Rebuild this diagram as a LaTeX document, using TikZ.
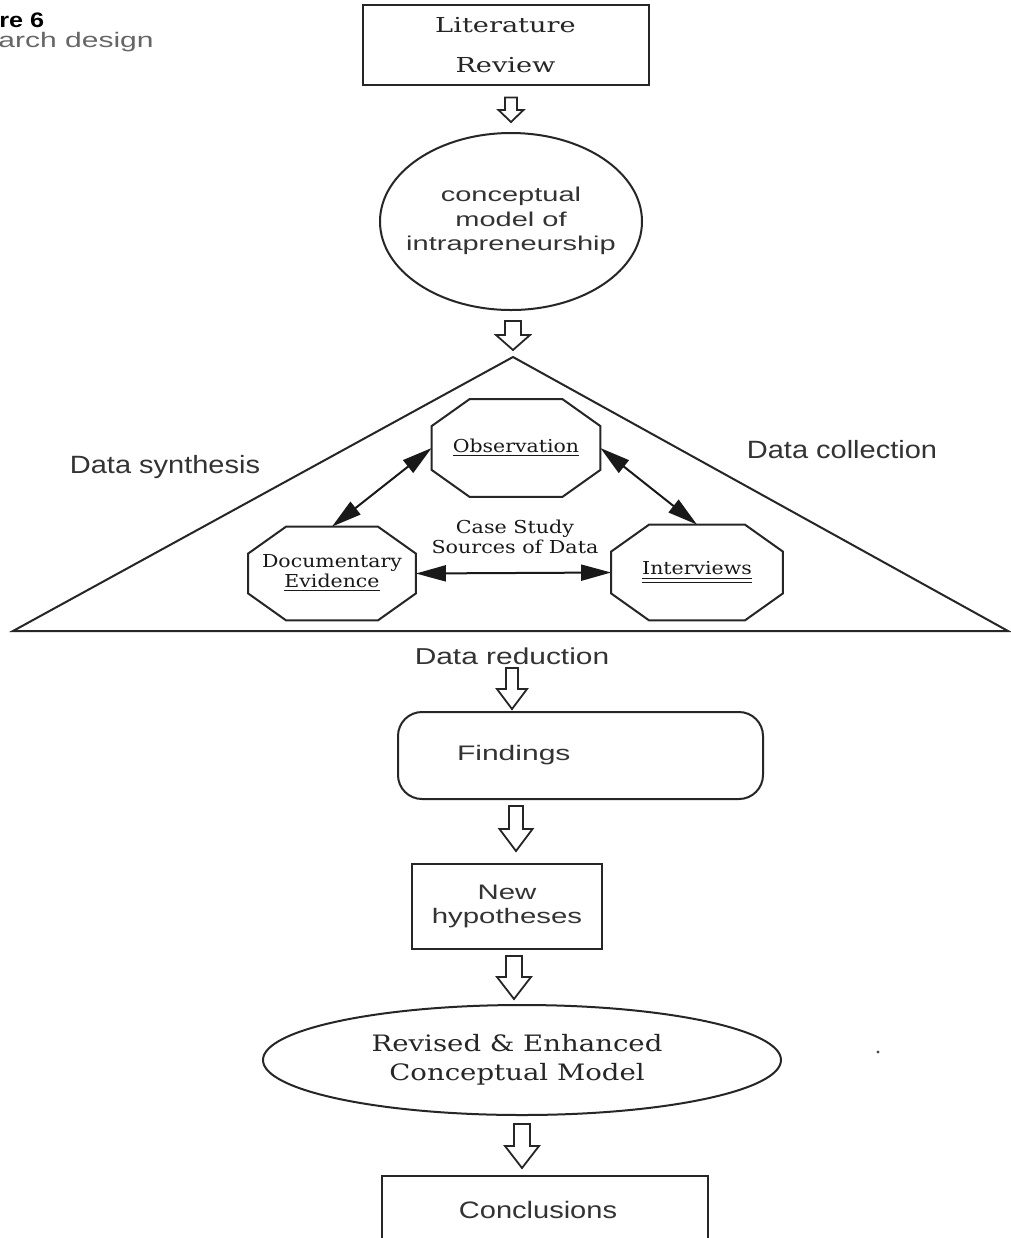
\documentclass[tikz,border=0pt]{standalone}
\usepackage{fontspec}
\usepackage{graphicx}
\setmainfont{DejaVu Serif}
\newfontfamily\sansf{Liberation Sans}
\newfontfamily\seriff{DejaVu Serif}
\usetikzlibrary{calc,shapes.geometric,arrows.meta}
\newcommand\hsx[2]{\scalebox{#1}[1]{#2}}
\tikzset{
  ln/.style={draw=black!85, line width=1pt},
  boxst/.style={ln, rectangle, inner sep=0pt},
  ellst/.style={ln, ellipse, inner sep=0pt},
  octst/.style={rectangle, inner sep=0pt, text=black!90},
  harrow/.style={draw=black!85, line width=0.9pt, fill=white, line join=miter},
  dbl/.style={{Triangle[length=15pt,width=8pt]}-{Triangle[length=15pt,width=8pt]}, draw=black!90, line width=1pt},
  sanslab/.style={text=black!80, inner sep=0pt},
}
\newcommand\octshape[1]{%
  \draw[ln, line join=miter] ([xshift=19pt]#1.north west) -- ([xshift=-19pt]#1.north east)
    -- ([yshift=-13.5pt]#1.north east) -- ([yshift=13.5pt]#1.south east)
    -- ([xshift=-19pt]#1.south east) -- ([xshift=19pt]#1.south west)
    -- ([yshift=13.5pt]#1.south west) -- ([yshift=-13.5pt]#1.north west) -- cycle;}
\newcommand\hollowarrow[5]{%
  \draw[harrow] let \p1=(#1), \p2=(#2) in
    (\x2-#3,\y1) -- (\x2+#3,\y1) -- (\x2+#3,\y2+#5) -- (\x2+#4,\y2+#5)
    -- (\x2,\y2) -- (\x2-#4,\y2+#5) -- (\x2-#3,\y2+#5) -- cycle;}
\begin{document}
\begin{tikzpicture}[x=0.5pt, y=-0.5pt]
\useasboundingbox (0,0) rectangle (1011,1238);
\clip (0,0) rectangle (1011,1238);
\fill[white] (0,0) rectangle (1011,1238);

% title (cropped in the original)
\node[anchor=base west, inner sep=0pt, font=\sansf\bfseries\fontsize{10.5}{12}\selectfont] (fig) at (-1,27) {\hsx{1.2}{re 6}};
\node[anchor=base west, inner sep=0pt, text=black!60, font=\sansf\fontsize{10.5}{12}\selectfont] (sub) at (-2,47) {\hsx{1.43}{arch design}};

% literature review
\node[boxst, minimum width=143pt, minimum height=37.5pt, text=black!85,
      font=\seriff\fontsize{10.3}{20}\selectfont] (lit) at (505.5,44.5)
  {\hsx{1.32}{\begin{tabular}{@{}c@{}}Literature\\Review\end{tabular}}};

% conceptual model
\node[ellst, minimum width=131pt, minimum height=88.5pt, text=black!80,
      font=\sansf\fontsize{10}{12.25}\selectfont] (concept) at (511,221.5)
  {\makebox[0pt]{\hsx{1.45}{\begin{tabular}{@{}c@{}}conceptual\\model of\\intrapreneurship\end{tabular}}}};

% triangle
\coordinate (apex) at (513,357);
\coordinate (bl) at (13,631);
\coordinate (br) at (1008,631);
\draw[ln, line join=miter] (apex) -- (br) -- (bl) -- cycle;

% octagons
\node[octst, minimum width=84pt, minimum height=48.5pt, font=\seriff\fontsize{8.9}{10}\selectfont] (obs) at (516,448)
  {\hsx{1.15}{\underline{Observation}}};
\node[octst, minimum width=83.5pt, minimum height=46.5pt, font=\seriff\fontsize{8.9}{9.8}\selectfont] (doc) at (332,573.5)
  {\hsx{1.15}{\begin{tabular}{@{}c@{}}Documentary\\\underline{Evidence}\end{tabular}}};
\node[octst, minimum width=85.5pt, minimum height=47.5pt, font=\seriff\fontsize{8.9}{10}\selectfont] (int) at (697,572.5)
  {\hsx{1.15}{\underline{\underline{Interviews}}}};
\octshape{obs}
\octshape{doc}
\octshape{int}

\draw[dbl] (obs.west) -- (doc.north);
\draw[dbl] (obs.east) -- (int.north);
\draw[dbl] (doc.east) -- (int.west);

\node[anchor=base, inner sep=0pt, text=black!90, font=\seriff\fontsize{8.9}{10}\selectfont] (case) at (515,533)
  {\hsx{1.16}{\begin{tabular}[t]{@{}c@{}}Case Study\\Sources of Data\end{tabular}}};

% side labels
\node[sanslab, anchor=base, font=\sansf\fontsize{12.5}{14}\selectfont] (synth) at (165,473) {\hsx{1.16}{Data synthesis}};
\node[sanslab, anchor=base, font=\sansf\fontsize{12.5}{14}\selectfont] (collect) at (842,458) {\hsx{1.16}{Data collection}};
\node[sanslab, anchor=base, font=\sansf\fontsize{11.5}{14}\selectfont] (red) at (512,664) {\hsx{1.3}{Data reduction}};

% findings
\node[ln, rectangle, rounded corners=12pt, inner sep=0pt, minimum width=182.5pt, minimum height=43.5pt,
      text=black!80, font=\sansf\fontsize{10.5}{12}\selectfont] (find) at (580.5,755.5)
  {\makebox[182.5pt][l]{\hspace{29.5pt}\hsx{1.43}{Findings}}};

% new hypotheses
\node[boxst, minimum width=95pt, minimum height=42.5pt, text=black!80,
      font=\sansf\fontsize{10.5}{12}\selectfont] (newhyp) at (507,906.5)
  {\hsx{1.4}{\begin{tabular}{@{}c@{}}New\\hypotheses\end{tabular}}};

% revised model
\node[ellst, minimum width=259pt, minimum height=55pt, text=black!85,
      font=\seriff\fontsize{11.3}{14.5}\selectfont] (revised) at (522,1060)
  {\makebox[0pt]{\hspace{-5pt}\hsx{1.22}{\begin{tabular}{@{}c@{}}Revised \& Enhanced\\Conceptual Model\end{tabular}}}};

% conclusions
\node[boxst, minimum width=163pt, minimum height=34pt, text=black!80,
      font=\sansf\fontsize{11.9}{14}\selectfont] (concl) at (545,1210)
  {\makebox[0pt]{\hspace{-7pt}\hsx{1.22}{Conclusions}}};

% stray dot
\fill[black!70] (878,1052) circle (0.8pt);

% hollow block arrows
\coordinate (a1s) at ($(lit.south)+(0,12)$);
\coordinate (a1t) at ($(concept.north)+(0,-10)$);
\coordinate (a2s) at ($(concept.south)+(0,10)$);
\coordinate (a2t) at ($(apex)+(0,-7)$);
\coordinate (a3s) at ($(red.base)+(0,4)$);
\coordinate (a3t) at ($(red.base |- find.north)+(0,-2)$);
\coordinate (a4s) at ($(find.south)+(0,6)$);
\coordinate (a4t) at ($(newhyp.north)+(9,-12)$);
\coordinate (a5s) at ($(newhyp.south)+(0,6)$);
\coordinate (a5t) at ($(revised.north)+(-8,-5)$);
\coordinate (a6s) at ($(revised.south)+(0,8)$);
\coordinate (a6t) at ($(concl.north)+(-23,-7)$);
\hollowarrow{a1s}{a1t}{3pt}{6.25pt}{6pt}
\hollowarrow{a2s}{a2t}{4pt}{8.5pt}{7.5pt}
\hollowarrow{a3s}{a3t}{3pt}{7.5pt}{10pt}
\hollowarrow{a4s}{a4t}{3.5pt}{8.25pt}{11pt}
\hollowarrow{a5s}{a5t}{4pt}{8.5pt}{11pt}
\hollowarrow{a6s}{a6t}{4pt}{8.5pt}{11pt}
\end{tikzpicture}
\end{document}
